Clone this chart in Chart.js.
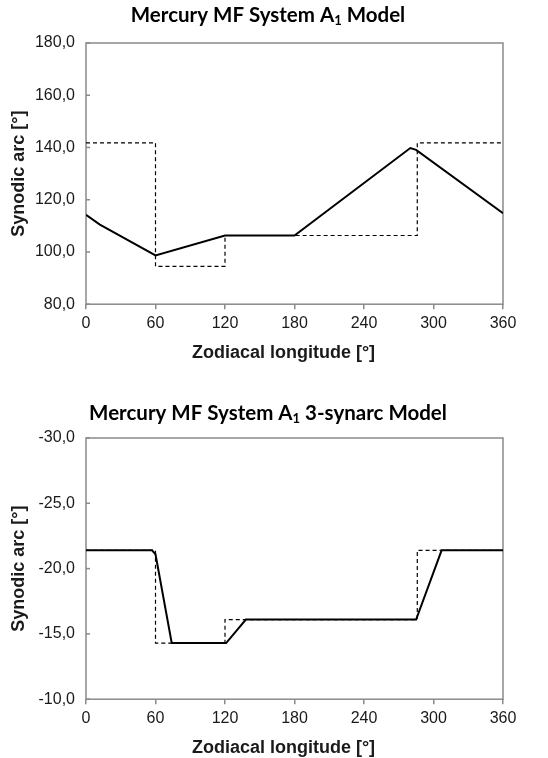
<!DOCTYPE html>
<html><head><meta charset="utf-8">
<script src="https://cdn.jsdelivr.net/npm/chart.js@4.4.0/dist/chart.umd.min.js"></script>
<style>
html,body{margin:0;padding:0;background:#fff;}
.box{position:absolute;left:0;width:548px;height:379px;}
</style></head><body>
<div class="box" style="top:0"><canvas id="c1"></canvas></div>
<div class="box" style="top:379px"><canvas id="c2"></canvas></div>
<script>
const xTicks = [0, 60, 120, 180, 240, 300, 360];
const topTitle = ['Mercury MF System A', '1', ' Model'];
const bottomTitle = ['Mercury MF System A', '1', ' 3-synarc Model'];
const xTitle = 'Zodiacal longitude [°]';
const yTitle = 'Synodic arc [°]';

const topSolidX = [0, 12, 60, 120, 180, 280, 285, 360];
const topSolidY = [114.2, 110.5, 98.7, 106.3, 106.3, 139.8, 139.1, 114.8];
const topDashX = [0, 60, 60, 120, 120, 286, 286, 360];
const topDashY = [141.8, 141.8, 94.5, 94.5, 106.3, 106.3, 141.8, 141.8];
const topYTicks = [80, 100, 120, 140, 160, 180];

const botSolidX = [0, 57, 60, 74, 121, 138, 285, 307, 360];
const botSolidY = [-21.4, -21.4, -21.1, -14.3, -14.3, -16.1, -16.1, -21.4, -21.4];
const botDashX = [0, 60, 60, 120, 120, 286, 286, 360];
const botDashY = [-21.4, -21.4, -14.3, -14.3, -16.1, -16.1, -21.4, -21.4];
const botYTicks = [-30, -25, -20, -15, -10];

const AXIS = '#8a8a8a';
const TXT = '#1a1a1a';
const SANS = '"Liberation Sans", Arial, sans-serif';

const framePlugin = {
  id: 'frame',
  beforeDatasetsDraw(chart) {
    const {ctx, chartArea: a} = chart;
    ctx.save();
    ctx.strokeStyle = AXIS; ctx.lineWidth = 1.5;
    ctx.strokeRect(a.left, a.top, a.right - a.left, a.bottom - a.top);
    const ys = chart.scales.y;
    ys.ticks.forEach(t => {
      const p = ys.getPixelForValue(t.value);
      ctx.beginPath(); ctx.moveTo(a.left, p); ctx.lineTo(a.left + 4, p); ctx.stroke();
    });
    ctx.restore();
  },
  afterDraw(chart, args, opts) {
    const ctx = chart.ctx;
    const a = chart.chartArea;
    const parts = opts.parts;
    ctx.save();
    // x-axis title
    ctx.fillStyle = TXT; ctx.textAlign = 'center'; ctx.textBaseline = 'middle';
    ctx.font = 'bold 18px ' + SANS;
    ctx.fillText(opts.xTitle, opts.xTitleCx, a.bottom + 49);
    // chart title with subscript
    const main = 'bold ' + opts.size + 'px Lato, "Noto Sans", sans-serif';
    const sub = 'bold ' + Math.round(opts.size * 0.62) + 'px Lato, "Noto Sans", sans-serif';
    ctx.font = main; const w0 = ctx.measureText(parts[0]).width; const w2 = ctx.measureText(parts[2]).width;
    ctx.font = sub; const w1 = ctx.measureText(parts[1]).width;
    let x = opts.cx - (w0 + w1 + w2) / 2;
    ctx.fillStyle = '#000'; ctx.textBaseline = 'middle'; ctx.textAlign = 'left';
    ctx.font = main; ctx.fillText(parts[0], x, opts.cy); x += w0;
    ctx.font = sub; ctx.fillText(parts[1], x, opts.cy + opts.size * 0.3); x += w1;
    ctx.font = main; ctx.fillText(parts[2], x, opts.cy);
    ctx.restore();
  }
};

function pts(xs, ys) { return xs.map((x, i) => ({x: x, y: ys[i]})); }

function makeChart(id, title, titleCy, sX, sY, dX, dY, yT, reverse, padTop, padBottom) {
  return new Chart(document.getElementById(id), {
    type: 'line',
    data: {
      datasets: [
        {data: pts(sX, sY), borderColor: '#000', borderWidth: 2, pointRadius: 0, tension: 0, fill: false},
        {data: pts(dX, dY), borderColor: '#000', borderWidth: 1.2, borderDash: [4, 3], pointRadius: 0, tension: 0, fill: false}
      ]
    },
    options: {
      responsive: true, maintainAspectRatio: false, animation: false,
      layout: {padding: {top: padTop, right: 45, bottom: padBottom, left: 0}},
      plugins: {
        legend: {display: false}, tooltip: {enabled: false},
        frame: {parts: title, cx: 268, cy: titleCy, size: 20.5, xTitle: xTitle, xTitleCx: 283.5}
      },
      scales: {
        x: {
          type: 'linear', position: 'bottom', min: xTicks[0], max: xTicks[xTicks.length - 1],
          afterBuildTicks: s => { s.ticks = xTicks.map(v => ({value: v})); },
          grid: {display: true, drawOnChartArea: false, drawTicks: true, tickLength: 5, color: AXIS, lineWidth: 1.5},
          border: {display: false},
          ticks: {padding: 5, color: TXT, font: {family: SANS, size: 16}, maxRotation: 0},
          title: {display: false, text: xTitle}
        },
        y: {
          min: yT[0], max: yT[yT.length - 1], reverse: reverse,
          afterBuildTicks: s => { s.ticks = yT.map(v => ({value: v})); },
          afterFit: s => { s.width = 86; },
          grid: {display: false, drawTicks: false},
          border: {display: false},
          ticks: {padding: 11, color: TXT, font: {family: SANS, size: 16},
                  callback: v => Number(v).toFixed(1).replace('.', ',')},
          title: {display: true, text: yTitle, color: TXT, padding: {top: 8, bottom: 0},
                  font: {family: SANS, size: 18, weight: 'bold'}}
        }
      }
    },
    plugins: [framePlugin]
  });
}

makeChart('c1', topTitle, 15, topSolidX, topSolidY, topDashX, topDashY, topYTicks, false, 43, 40.6);
makeChart('c2', bottomTitle, 34, botSolidX, botSolidY, botDashX, botDashY, botYTicks, true, 59, 24.6);
</script>
</body></html>
